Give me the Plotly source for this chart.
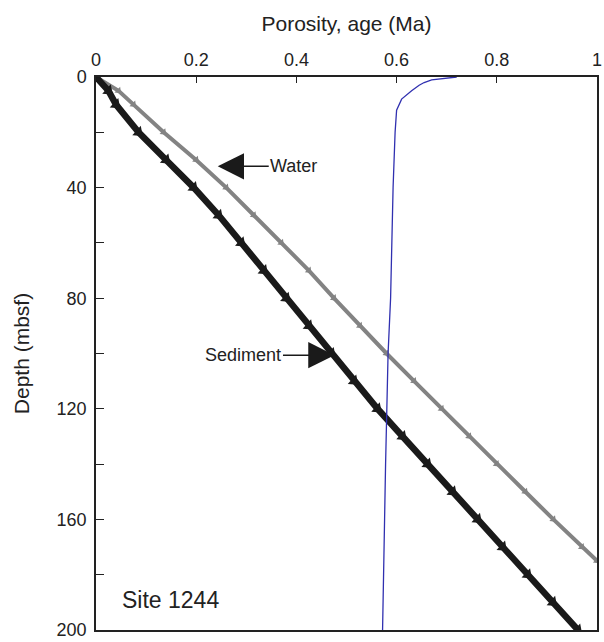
import plotly.graph_objects as go

# Water age (Ma) vs depth (mbsf)
water_depth = [0, 5, 10, 20, 30, 40, 50, 60, 70, 80, 90, 100, 110, 120, 130, 140, 150, 160, 170, 175]
water_age = [0, 0.045, 0.075, 0.135, 0.2, 0.26, 0.315, 0.37, 0.425, 0.475, 0.527, 0.58, 0.635, 0.69, 0.745, 0.80, 0.857, 0.913, 0.97, 1.0]

# Sediment age (Ma) vs depth (mbsf)
sed_depth = [0, 5, 10, 20, 30, 40, 50, 60, 70, 80, 90, 100, 110, 120, 130, 140, 150, 160, 170, 180, 190, 200]
sed_age = [0, 0.025, 0.04, 0.085, 0.14, 0.195, 0.245, 0.29, 0.335, 0.38, 0.425, 0.47, 0.515, 0.562, 0.612, 0.662, 0.712, 0.762, 0.812, 0.862, 0.912, 0.962]

# Porosity vs depth
por_depth = [0, 0.5, 1, 2, 3, 5, 8, 12, 20, 40, 60, 80, 100, 120, 140, 160, 180, 200]
porosity = [0.72, 0.69, 0.67, 0.655, 0.645, 0.63, 0.61, 0.60, 0.597, 0.593, 0.591, 0.588, 0.583, 0.58, 0.578, 0.576, 0.574, 0.572]

x_ticks = [0, 0.2, 0.4, 0.6, 0.8, 1]
x_ticktext = ["0", "0.2", "0.4", "0.6", "0.8", "1"]
y_ticks = [0, 40, 80, 120, 160, 200]

FONT = "Liberation Sans, Arial, Helvetica, sans-serif"

fig = go.Figure()
fig.add_trace(go.Scatter(
    x=water_age, y=water_depth, mode="lines+markers",
    line=dict(color="#838383", width=4),
    marker=dict(symbol="triangle-right", size=7, angle=45, color="#838383"),
    showlegend=False))
fig.add_trace(go.Scatter(
    x=sed_age, y=sed_depth, mode="lines+markers",
    line=dict(color="#1a1a1a", width=6.5),
    marker=dict(symbol="triangle-right", size=11, angle=42, color="#1a1a1a"),
    showlegend=False))
fig.add_trace(go.Scatter(
    x=porosity, y=por_depth, mode="lines",
    line=dict(color="#3030b0", width=1.3),
    showlegend=False))

fig.add_annotation(x=0.243, y=32.3, xref="x", yref="y", text="Water",
                   showarrow=True, ax=76, ay=0, arrowhead=2, arrowsize=3.5,
                   arrowwidth=1.5, arrowcolor="#1a1a1a",
                   font=dict(family=FONT, size=18, color="#222"))
fig.add_annotation(x=0.476, y=100.6, xref="x", yref="y", text="Sediment",
                   showarrow=True, ax=-91, ay=0, arrowhead=2, arrowsize=3.5,
                   arrowwidth=1.5, arrowcolor="#1a1a1a",
                   font=dict(family=FONT, size=18, color="#222"))
fig.add_annotation(x=0.047, y=189, xref="x", yref="y", text="Site 1244",
                   showarrow=False, xanchor="left",
                   font=dict(family=FONT, size=23, color="#222"))

fig.update_layout(
    width=604, height=642,
    margin=dict(l=96, r=2, t=77, b=11),
    paper_bgcolor="white", plot_bgcolor="white",
    font=dict(family=FONT, size=18, color="#222"),
    xaxis=dict(
        side="top", range=[0, 1], tickvals=x_ticks, ticktext=x_ticktext,
        ticks="inside", ticklen=6, tickwidth=1.2, tickcolor="#222",
        ticklabeloverflow="allow", ticklabelstandoff=2,
        showline=True, linecolor="#222", linewidth=1.5, mirror=True,
        showgrid=False, zeroline=False,
        title=dict(text="Porosity, age (Ma)", standoff=13, font=dict(size=21)),
        tickfont=dict(size=18)),
    yaxis=dict(
        range=[200, 0], tickvals=y_ticks,
        ticks="inside", ticklen=8, tickwidth=1.2, tickcolor="#222",
        ticklabeloverflow="allow", ticklabelstandoff=4,
        minor=dict(dtick=20, tick0=0, ticks="inside", ticklen=8, tickwidth=1.2, tickcolor="#222"),
        showline=True, linecolor="#222", linewidth=1.5, mirror=True,
        showgrid=False, zeroline=False,
        title=dict(text="Depth (mbsf)", standoff=21, font=dict(size=21)),
        tickfont=dict(size=18)),
)

fig.write_html("out.html")
